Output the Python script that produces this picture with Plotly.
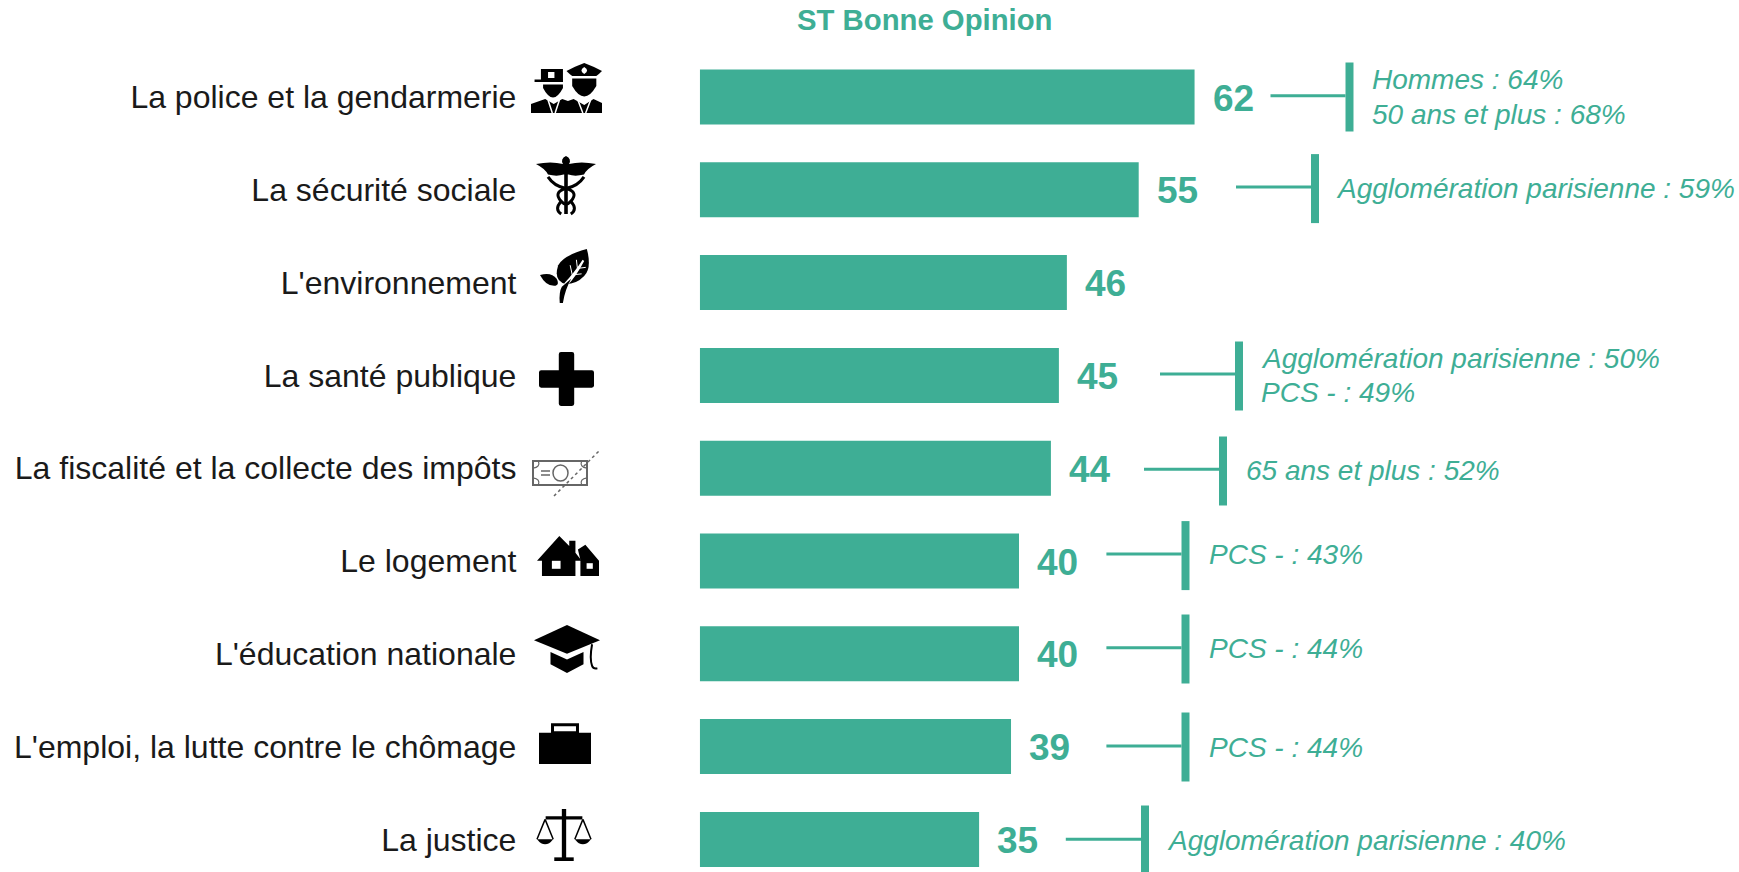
import plotly.graph_objects as go

categories = ["La police et la gendarmerie", "La sécurité sociale", "L'environnement",
              "La santé publique", "La fiscalité et la collecte des impôts", "Le logement",
              "L'éducation nationale", "L'emploi, la lutte contre le chômage", "La justice"]
values = [62, 55, 46, 45, 44, 40, 40, 39, 35]
notes = ["Hommes : 64%<br>50 ans et plus : 68%", "Agglomération parisienne : 59%", "",
         "Agglomération parisienne : 50%<br>PCS - : 49%", "65 ans et plus : 52%", "PCS - : 43%",
         "PCS - : 44%", "PCS - : 44%", "Agglomération parisienne : 40%"]
title = "ST Bonne Opinion"

W, H = 1739, 872
GREEN = "#3EAE95"
FONT = "Liberation Sans"
X0, PXU = 699.8, 7.98          # pixel of value 0, pixels per unit
Y0, DY = 97.0, 92.8            # pixel of first row, row pitch
NOTE_LINE = 34.5               # pixel distance between two note lines

# connector geometry in px: line start, bar left, bar centre y, line y, text x, text y
callouts = [
    (1270.5, 1345.5, 97, 95.7, 1370, 97), (1236, 1311, 188.6, 187, 1333.7, 188), None,
    (1160, 1235, 376, 374, 1259, 375.5), (1144, 1219, 471, 469.3, 1244, 470.7),
    (1106.4, 1181.5, 555.6, 554, 1206.5, 554.5), (1106.4, 1181.5, 649, 647.7, 1206.5, 648),
    (1106.4, 1181.5, 747, 746, 1206.5, 747), (1065.8, 1141, 840, 839.3, 1165, 840),
]

def px(x): return x / W
def py(y): return 1 - y / H

def icon_path(d, box, local=100):
    x, y, w, h = box
    out, toks = [], d.split()
    i = 0
    while i < len(toks):
        t = toks[i]
        if t in ("M", "L"):
            out.append(f"{t}{px(x + float(toks[i+1]) * w / local):.5f},{py(y + float(toks[i+2]) * h / local):.5f}")
            i += 3
        elif t == "Q":
            out.append("Q" + " ".join(f"{px(x + float(toks[i+1+k*2]) * w / local):.5f},{py(y + float(toks[i+2+k*2]) * h / local):.5f}" for k in range(2)))
            i += 5
        else:
            out.append(t); i += 1
    return " ".join(out)

def ishape(d, box, fill="black", line=None, lw=0):
    return dict(type="path", xref="paper", yref="paper", path=icon_path(d, box),
                fillcolor=fill, line=dict(color=line or "rgba(0,0,0,0)", width=lw), layer="above")

def rect(x0, y0, x1, y1):
    return f"M {x0} {y0} L {x1} {y0} L {x1} {y1} L {x0} {y1} Z"

NOFILL = "rgba(0,0,0,0)"
shapes = []
# police
b = (531, 63, 71, 50)
shapes += [
 ishape("M 14 12 L 45 12 L 45 38 L 14 38 Z", b),
 ishape(rect(5, 33, 45, 38), b),
 ishape(rect(24, 18, 33, 30), b, fill="white"),
 ishape("M 17 43 L 45 43 L 45 50 Q 31 88 17 50 Z", b),
 ishape("M 75 0 Q 90 8 100 16 Q 96 22 92 26 L 58 26 Q 54 22 50 16 Q 60 8 75 0 Z", b),
 ishape("M 75 8 Q 83 15 75 22 Q 67 15 75 8 Z", b, fill="white"),
 ishape("M 58 31 L 92 31 L 92 46 Q 75 88 58 46 Z", b),
 ishape("M 0 100 L 0 82 L 20 72 L 32 82 L 44 72 L 52 76 L 60 72 L 75 84 L 88 72 L 100 80 L 100 100 Z", b),
 ishape("M 24 74 L 30 100 M 40 74 L 34 100 M 66 74 L 73 100 M 84 74 L 77 100", b, fill=NOFILL, line="white", lw=1.5),
]
# caduceus
b = (536, 156, 60, 58)
shapes += [
 ishape("M 50 0 Q 60 5 55 14 Q 75 8 100 14 Q 85 22 80 32 Q 65 36 54 32 L 46 32 Q 35 36 20 32 Q 15 22 0 14 Q 25 8 45 14 Q 40 5 50 0 Z", b),
 ishape(rect(47, 20, 53, 100), b),
 ishape("M 20 36 Q 30 52 50 56 Q 72 62 58 78 Q 50 88 42 78 Q 28 62 50 56 Q 70 52 80 36", b, fill=NOFILL, line="black", lw=3),
 ishape("M 42 78 Q 30 92 42 100 M 58 78 Q 70 92 58 100", b, fill=NOFILL, line="black", lw=3),
]
# leaf
b = (540, 249, 52, 54)
shapes += [
 ishape("M 50 65 Q 25 60 35 30 Q 45 12 90 0 Q 100 35 85 50 Q 70 65 50 65 Z", b),
 ishape("M 40 100 Q 38 75 48 62 Q 65 45 82 20 L 85 22 Q 70 50 52 68 Q 44 80 44 100 Z", b, fill="white"),
 ishape("M 62 48 L 58 30 M 72 36 L 70 20 M 62 48 L 80 46 M 72 36 L 88 34", b, fill=NOFILL, line="white", lw=1),
 ishape("M 30 68 Q 12 70 0 48 Q 22 42 32 55 Q 38 65 30 68 Z", b),
 ishape("M 38 100 Q 36 80 42 70 L 60 55 Q 48 75 44 100 Z", b),
]
# plus
shapes.append(ishape("M 36 4 Q 36 0 40 0 L 60 0 Q 64 0 64 4 L 64 34 L 96 34 Q 100 34 100 38 L 100 62 Q 100 66 96 66 L 64 66 L 64 96 Q 64 100 60 100 L 40 100 Q 36 100 36 96 L 36 66 L 4 66 Q 0 66 0 62 L 0 38 Q 0 34 4 34 L 36 34 Z", (539, 352, 55, 54)))
# money
b = (533, 461, 54, 24)
GREY = dict(color="#666", width=1.5)
shapes += [
 ishape(rect(0, 0, 100, 100), b, fill="white", line="#666", lw=2),
 dict(type="circle", xref="paper", yref="paper", x0=px(553), x1=px(568), y0=py(465), y1=py(481), line=GREY),
 dict(type="line", xref="paper", yref="paper", x0=px(541), x1=px(550), y0=py(471), y1=py(471), line=GREY),
 dict(type="line", xref="paper", yref="paper", x0=px(541), x1=px(550), y0=py(475), y1=py(475), line=GREY),
 ishape("M 0 30 Q 14 25 10 0 M 0 70 Q 14 75 10 100 M 100 30 Q 86 25 90 0 M 100 70 Q 86 75 90 100", b, fill=NOFILL, line="#666", lw=1.2),
 dict(type="line", xref="paper", yref="paper", x0=px(554), x1=px(599), y0=py(496), y1=py(451), line=dict(color="#666", width=1.5, dash="dot")),
]
# house
b = (537, 536, 62, 40)
shapes += [
 ishape("M 0 62 L 36 0 L 52 25 L 52 12 L 62 12 L 62 42 L 72 62 L 62 62 L 62 100 L 8 100 L 8 62 Z", b),
 ishape("M 66 34 L 78 22 L 100 62 L 100 100 L 70 100 L 70 60 Z", b),
 ishape(rect(24, 62, 38, 82), b, fill="white"),
 ishape(rect(80, 68, 90, 82), b, fill="white"),
]
# graduation cap
b = (534, 625, 66, 48)
shapes += [
 ishape("M 50 0 L 100 32 L 50 60 L 0 32 Z", b),
 ishape("M 25 56 L 50 72 L 75 56 L 75 82 L 50 100 L 25 82 Z", b),
 ishape("M 88 40 Q 84 70 88 85 Q 90 92 96 90", b, fill=NOFILL, line="black", lw=2),
]
# briefcase
b = (539, 724, 52, 40)
shapes += [
 ishape(rect(0, 22, 100, 100), b),
 ishape(rect(26, 2, 74, 22), b, fill="white", line="black", lw=3),
]
# scales
b = (537, 809, 54, 52)
shapes += [
 ishape(rect(46, 0, 54, 100), b),
 ishape(rect(16, 14, 84, 20), b),
 ishape(rect(32, 93, 68, 100), b),
 ishape("M 0 58 L 30 58 Q 15 78 0 58 Z", b),
 ishape("M 70 58 L 100 58 Q 85 78 70 58 Z", b),
 ishape("M 15 20 L 0 58 M 15 20 L 30 58 M 85 20 L 70 58 M 85 20 L 100 58", b, fill=NOFILL, line="black", lw=1.5),
]

annotations = [dict(text=title, x=px(925), y=py(20), xref="paper", yref="paper", showarrow=False,
                    xanchor="center", yanchor="middle",
                    font=dict(family=FONT, size=29.3, color=GREEN, weight="bold"))]

for cat, val in zip(categories, values):
    annotations.append(dict(text=str(val), x=val, y=cat, xref="x", yref="y", showarrow=False,
                            xanchor="left", yanchor="middle", xshift=16, yshift=-1,
                            font=dict(family=FONT, size=37, color=GREEN, weight="bold")))

for note, c in zip(notes, callouts):
    if c is None:
        continue
    x_start, x_bar, y_bar, y_line, x_text, y_text = c
    shapes.append(dict(type="line", xref="paper", yref="paper", x0=px(x_start), x1=px(x_bar),
                       y0=py(y_line), y1=py(y_line), line=dict(color=GREEN, width=3)))
    shapes.append(dict(type="rect", xref="paper", yref="paper", x0=px(x_bar), x1=px(x_bar + 8),
                       y0=py(y_bar - 34.5), y1=py(y_bar + 34.5), fillcolor=GREEN, line=dict(width=0)))
    lines = note.split("<br>")
    for k, ln in enumerate(lines):
        yy = y_text + (k - (len(lines) - 1) / 2) * NOTE_LINE
        annotations.append(dict(text=f"<i>{ln}</i>", x=px(x_text), y=py(yy), xref="paper", yref="paper",
                                showarrow=False, xanchor="left", yanchor="middle", align="left",
                                font=dict(family=FONT, size=28, color=GREEN)))

fig = go.Figure(go.Bar(
    y=categories, x=values, orientation="h", width=0.593,
    marker=dict(color=GREEN, line=dict(width=0)), cliponaxis=False,
))
fig.update_layout(
    width=W, height=H, autosize=False, margin=dict(l=0, r=0, t=0, b=0),
    paper_bgcolor="white", plot_bgcolor="white", showlegend=False,
    xaxis=dict(domain=[X0 / W, 1], range=[0, (W - X0) / PXU], visible=False),
    yaxis=dict(domain=[0, 1], range=[(H - Y0) / DY, -Y0 / DY],
               tickmode="array", tickvals=categories, ticktext=categories,
               type="category", showline=False, showgrid=False, zeroline=False,
               ticks="outside", ticklen=176, tickcolor="rgba(0,0,0,0)",
               tickfont=dict(family=FONT, size=32, color="#1a1a1a")),
    shapes=shapes, annotations=annotations,
)
fig.write_html("out.html", config={"displayModeBar": False},
               post_script="document.body.style.margin='0';")
